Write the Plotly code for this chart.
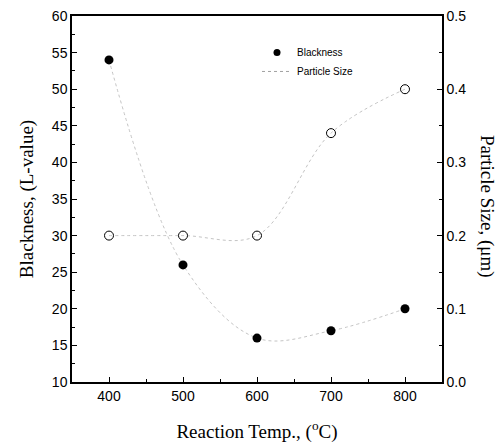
import plotly.graph_objects as go

temps = [400, 500, 600, 700, 800]
blackness = [54, 26, 16, 17, 20]
particle_size = [0.2, 0.2, 0.2, 0.34, 0.4]

fig = go.Figure()
fig.add_trace(go.Scatter(
    x=temps, y=blackness, name="Blackness", mode="lines+markers",
    line=dict(shape="spline", smoothing=1.0, color="#c4c4c4", width=1, dash="dot"),
    marker=dict(symbol="circle", size=9, color="black"),
    yaxis="y", showlegend=False))
fig.add_trace(go.Scatter(
    x=temps, y=particle_size, name="Particle Size", mode="lines+markers",
    line=dict(shape="spline", smoothing=1.0, color="#c4c4c4", width=1, dash="dot"),
    marker=dict(symbol="circle-open", size=9, color="black", line=dict(width=1)),
    yaxis="y2", showlegend=False))

# legend entries as in the reference (filled dot for Blackness, dotted line for Particle Size)
fig.add_trace(go.Scatter(x=[None], y=[None], name="Blackness", mode="markers",
                         marker=dict(symbol="circle", size=7, color="black")))
fig.add_trace(go.Scatter(x=[None], y=[None], name="Particle Size", mode="lines",
                         line=dict(color="#a0a0a0", width=1, dash="dot")))

tickfont = dict(family="Liberation Sans, Arial", size=14, color="black")
titlefont = dict(family="Liberation Serif, Times New Roman", size=19, color="black")

fig.update_layout(
    width=502, height=443,
    margin=dict(l=72, r=60, t=16, b=61, autoexpand=False),
    paper_bgcolor="white", plot_bgcolor="white",
    showlegend=True,
    legend=dict(x=0.5, y=0.94, xanchor="left", yanchor="top",
                font=dict(family="Liberation Sans, Arial", size=10, color="black"),
                bgcolor="rgba(0,0,0,0)", tracegroupgap=0, itemwidth=30),
    xaxis=dict(range=[350, 850], tickvals=[400, 500, 600, 700, 800], automargin=False,
               ticks="inside", ticklen=5, tickcolor="black",
               minor=dict(ticks="inside", ticklen=3, dtick=50, tickcolor="black"),
               showline=True, linecolor="black", linewidth=1.5, mirror=True,
               showgrid=False, zeroline=False, tickfont=tickfont,
               title=dict(text="Reaction Temp., (<sup>o</sup>C)", font=titlefont, standoff=35)),
    yaxis=dict(range=[10, 60], dtick=5, automargin=False,
               ticks="inside", ticklen=5, tickcolor="black",
               minor=dict(ticks="inside", ticklen=3, dtick=2.5, tickcolor="black"),
               showline=True, linecolor="black", linewidth=1.5, mirror=True,
               showgrid=False, zeroline=False, tickfont=tickfont,
               title=dict(text="Blackness, (L-value)", font=titlefont, standoff=13)),
    yaxis2=dict(range=[0, 0.5], dtick=0.1, tickformat=".1f", overlaying="y", side="right",
                automargin=False,
                ticks="inside", ticklen=5, tickcolor="black",
                minor=dict(ticks="inside", ticklen=3, dtick=0.05, tickcolor="black"),
                showline=True, linecolor="black", linewidth=1.5,
                showgrid=False, zeroline=False, tickfont=tickfont),
    annotations=[dict(text="Particle Size, (μm)", textangle=90, showarrow=False,
                      xref="paper", yref="paper", x=1.12, y=0.48,
                      xanchor="center", yanchor="middle", font=titlefont)],
)

fig.write_html("out.html", config={"displayModeBar": False},
               post_script="document.body.style.margin='0';document.body.style.padding='0';")
